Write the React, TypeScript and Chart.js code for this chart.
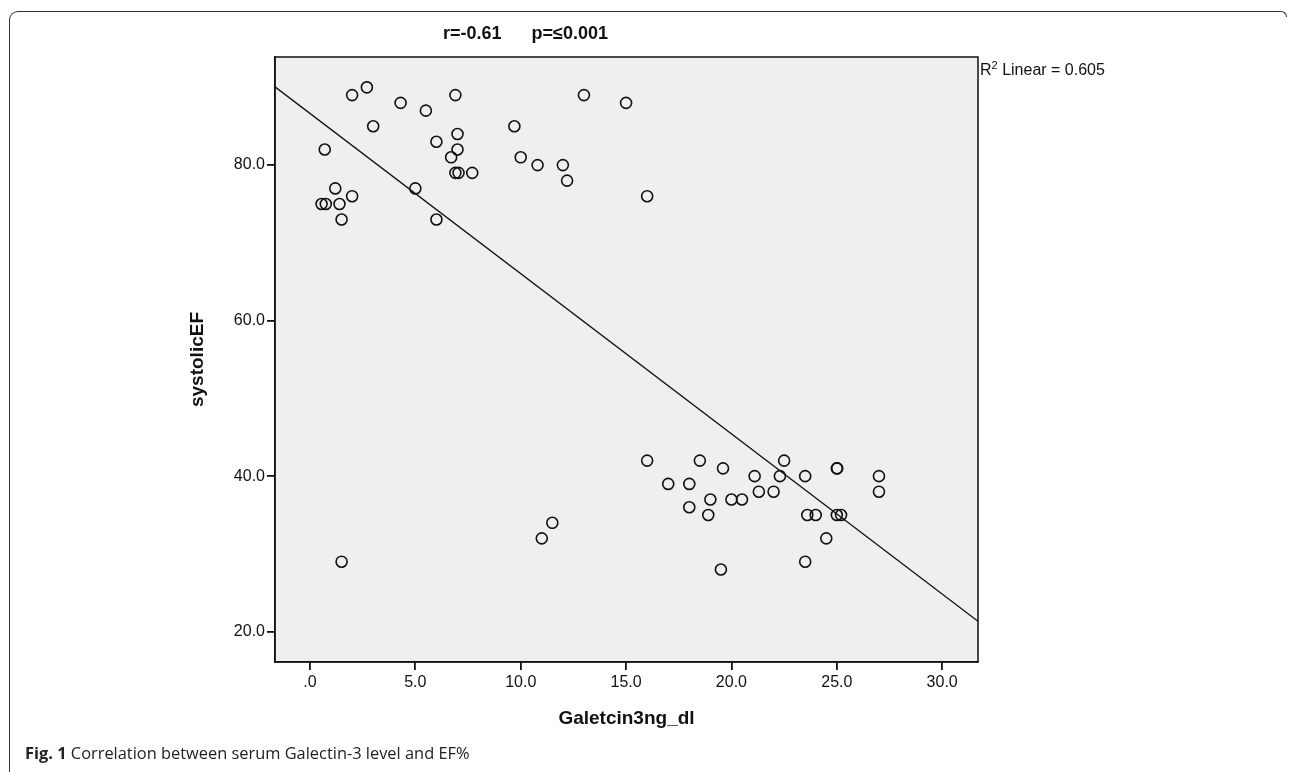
import React, { useEffect, useRef } from "react";
import { Chart, registerables } from "chart.js";

Chart.register(...registerables);

// Galectin-3 (ng/dl) values
const galectin = [
  0.7, 2.0, 2.7, 3.0, 4.3, 5.5, 6.9, 7.0, 6.0, 7.0, 6.7, 6.9, 7.05, 7.7, 9.7,
  10.0, 10.8, 12.0, 12.2, 13.0, 15.0, 16.0, 5.0, 6.0, 1.2, 2.0, 0.55, 0.75, 1.4, 1.5,
  1.5, 11.0, 11.5, 16.0, 17.0, 18.0, 18.0, 18.5, 18.9, 19.0, 19.6, 19.5, 20.0, 20.5, 21.1,
  21.3, 22.0, 22.3, 22.5, 23.5, 23.6, 24.0, 23.5, 24.5, 25.0, 25.02, 25.0, 25.2, 27.0, 27.0,
];
// systolic EF values, same order
const systolicEF = [
  82, 89, 90, 85, 88, 87, 89, 84, 83, 82, 81, 79, 79, 79, 85,
  81, 80, 80, 78, 89, 88, 76, 77, 73, 77, 76, 75, 75, 75, 73,
  29, 32, 34, 42, 39, 39, 36, 42, 35, 37, 41, 28, 37, 37, 40,
  38, 38, 40, 42, 40, 35, 35, 29, 32, 41, 41, 35, 35, 40, 38,
];

const xTickValues = [0, 5, 10, 15, 20, 25, 30];
const yTickValues = [20, 40, 60, 80];
const xMin = -1.66;
const xMax = 31.7;
const yMin = 16.1;
const yMax = 93.9;

// fitted linear regression (R² = 0.605)
const fitIntercept = 86.64;
const fitSlope = -2.06;

const titleText = "r=-0.61      p=≤0.001";
const xTitle = "Galetcin3ng_dl";
const yTitle = "systolicEF";
const r2Text = " Linear = 0.605";

const FONT = "'Liberation Sans', Arial, Helvetica, sans-serif";
const INK = "#111111";

const fmtTick = (v: number) => (v === 0 ? ".0" : v.toFixed(1));

const plotFrame = {
  id: "plotFrame",
  beforeDraw(chart: any) {
    const { ctx, chartArea: a } = chart;
    ctx.save();
    ctx.fillStyle = "#efefef";
    ctx.fillRect(a.left, a.top, a.right - a.left, a.bottom - a.top);
    ctx.restore();
  },
  afterDraw(chart: any) {
    const { ctx, chartArea: a } = chart;
    ctx.save();
    ctx.strokeStyle = INK;
    ctx.lineWidth = 1.5;
    ctx.strokeRect(a.left, a.top, a.right - a.left, a.bottom - a.top);
    ctx.restore();
  },
};

export default function App() {
  const canvasRef = useRef<HTMLCanvasElement | null>(null);

  useEffect(() => {
    if (!canvasRef.current) return;
    const points = galectin.map((x, i) => ({ x, y: systolicEF[i] }));
    const fitLine = [
      { x: xMin, y: fitIntercept + fitSlope * xMin },
      { x: xMax, y: fitIntercept + fitSlope * xMax },
    ];
    const chart = new Chart(canvasRef.current, {
      type: "scatter",
      data: {
        datasets: [
          {
            type: "line",
            data: fitLine,
            borderColor: INK,
            borderWidth: 1.3,
            pointRadius: 0,
            showLine: true,
            fill: false,
          } as any,
          {
            data: points,
            pointStyle: "circle",
            pointRadius: 5.5,
            pointBorderWidth: 1.6,
            borderColor: INK,
            backgroundColor: "rgba(0,0,0,0)",
          } as any,
        ],
      },
      plugins: [plotFrame],
      options: {
        responsive: false,
        animation: false,
        events: [],
        layout: { padding: { left: 186, right: 312, top: 57, bottom: 42 } },
        plugins: {
          legend: { display: false },
          tooltip: { enabled: false },
          title: { display: false },
        },
        scales: {
          x: {
            type: "linear",
            position: "bottom",
            min: xMin,
            max: xMax,
            afterBuildTicks: (s: any) => {
              s.ticks = xTickValues.map((v) => ({ value: v }));
            },
            afterFit: (s: any) => {
              s.height = 68;
            },
            ticks: {
              callback: (v: any) => fmtTick(Number(v)),
              font: { family: FONT, size: 16 },
              color: INK,
              padding: 3,
              maxRotation: 0,
              autoSkip: false,
            },
            grid: {
              display: true,
              drawOnChartArea: false,
              drawTicks: true,
              tickLength: 8,
              color: INK,
              lineWidth: 1.8,
            },
            border: { display: true, color: INK, width: 1.5 },
            title: {
              display: true,
              text: xTitle,
              font: { family: FONT, size: 19, weight: "bold" },
              color: INK,
              padding: 0,
            },
          },
          y: {
            type: "linear",
            min: yMin,
            max: yMax,
            afterBuildTicks: (s: any) => {
              s.ticks = yTickValues.map((v) => ({ value: v }));
            },
            afterFit: (s: any) => {
              s.width = 89;
            },
            ticks: {
              callback: (v: any) => fmtTick(Number(v)),
              font: { family: FONT, size: 16 },
              color: INK,
              padding: 2,
              autoSkip: false,
            },
            grid: {
              display: true,
              drawOnChartArea: false,
              drawTicks: true,
              tickLength: 8,
              color: INK,
              lineWidth: 1.8,
            },
            border: { display: true, color: INK, width: 1.5 },
            title: {
              display: true,
              text: yTitle,
              font: { family: FONT, size: 19, weight: "bold" },
              color: INK,
              padding: 0,
            },
          },
        },
      } as any,
    });
    return () => chart.destroy();
  }, []);

  return (
    <div
      style={{
        position: "absolute",
        left: 0,
        top: 0,
        width: 1290,
        height: 772,
        overflow: "hidden",
        background: "#ffffff",
      }}
    >
      <div
        style={{
          position: "absolute",
          left: 9,
          top: 11,
          width: 1270,
          height: 770,
          borderLeft: "1.5px solid #333",
          borderTop: "1.5px solid #333",
          borderTopLeftRadius: 9,
        }}
      />
      <div
        style={{
          position: "absolute",
          left: 1279,
          top: 11,
          width: 7,
          height: 5,
          borderTop: "1.5px solid #333",
          borderRight: "1.5px solid #333",
          borderTopRightRadius: 6,
        }}
      />
      <canvas
        ref={canvasRef}
        width={1290}
        height={772}
        style={{ position: "absolute", left: 0, top: 0, width: 1290, height: 772, display: "block" }}
      />
      <div
        style={{
          position: "absolute",
          left: 443,
          top: 23,
          fontFamily: FONT,
          fontWeight: "bold",
          fontSize: 18,
          lineHeight: "20px",
          color: INK,
          whiteSpace: "pre",
        }}
      >
        {titleText}
      </div>
      <div
        style={{
          position: "absolute",
          left: 980,
          top: 61,
          fontFamily: FONT,
          fontSize: 16,
          lineHeight: "18px",
          color: INK,
          whiteSpace: "pre",
        }}
      >
        R<span style={{ fontSize: 11, position: "relative", top: -6 }}>2</span>
        {r2Text}
      </div>
      <div
        style={{
          position: "absolute",
          left: 25,
          top: 742,
          fontFamily: "'Open Sans', 'Noto Sans', sans-serif",
          fontSize: 16.4,
          lineHeight: "22px",
          color: "#222",
          whiteSpace: "pre",
        }}
      >
        <span style={{ fontWeight: "bold" }}>Fig. 1</span> Correlation between serum Galectin-3 level and EF%
      </div>
    </div>
  );
}
